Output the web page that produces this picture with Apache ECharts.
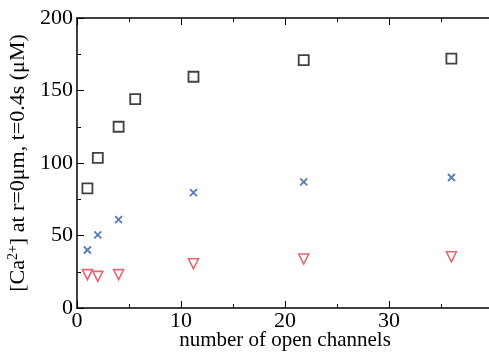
<!DOCTYPE html>
<html><head><meta charset="utf-8">
<script src="https://cdn.jsdelivr.net/npm/echarts@6/dist/echarts.min.js"></script>
<style>html,body{margin:0;padding:0;background:#fff;overflow:hidden}#c{width:489px;height:352px}</style>
</head><body><div id="c"></div>
<script>
const squaresX = [1, 2, 4, 5.6, 11.2, 21.8, 36];
const squaresY = [82.5, 103.5, 125, 144, 159.5, 171, 172];
const crossX = [1, 2, 4, 11.2, 21.8, 36];
const crossY = [40, 50.5, 61, 79.5, 87, 90];
const triX = [1, 2, 4, 11.2, 21.8, 36];
const triY = [23, 21.8, 23, 30.5, 33.8, 35.3];
const xTicks = [0, 10, 20, 30, 40];
const yTicks = [0, 50, 100, 150, 200];

const zip = (a, b) => a.map((v, i) => [v, b[i]]);
const font = 'Liberation Serif';
const chart = echarts.init(document.getElementById('c'));
const axisCommon = (c) => ({
  axisLine: {show: true, onZero: false, lineStyle: {color: c, width: 1.5}},
  axisTick: {show: true, inside: true, length: 7, lineStyle: {color: c, width: 1}},
  minorTick: {show: true, splitNumber: 2, length: 4, lineStyle: {color: c, width: 1}},
  splitLine: {show: false}
});
chart.setOption({
  animation: false,
  grid: {left: 77, top: 18, width: 416, height: 290, containLabel: false, outerBoundsMode: 'none'},
  xAxis: [
    Object.assign({type: 'value', min: xTicks[0], max: xTicks[xTicks.length-1], interval: 10, position: 'bottom',
      name: 'number of open channels', nameLocation: 'middle', nameGap: 22, nameMoveOverlap: false,
      nameTextStyle: {fontFamily: font, fontSize: 21, color: '#000'},
      axisLabel: {fontFamily: font, fontSize: 22, color: '#000', margin: 2,
        formatter: v => v === 40 ? '' : String(v)}}, axisCommon('#000')),
    Object.assign({type: 'value', min: xTicks[0], max: xTicks[xTicks.length-1], interval: 10, position: 'top',
      axisLabel: {show: false}}, axisCommon('#000'))
  ],
  yAxis: [
    Object.assign({type: 'value', min: yTicks[0], max: yTicks[yTicks.length-1], interval: 50,
      name: '{a|[Ca}{s|2+}{a|] at r=0μm, t=0.4s (μM)}', nameLocation: 'middle', nameGap: 45, nameRotate: 90,
      nameTextStyle: {rich: {
        a: {fontFamily: font, fontSize: 22, color: '#000'},
        s: {fontFamily: font, fontSize: 14, color: '#000', verticalAlign: 'top', padding: [0,0,10,0]}
      }},
      axisLabel: {fontFamily: font, fontSize: 22, color: '#000', margin: 4}}, axisCommon('#000'))
  ],
  series: [
    {type: 'scatter', data: zip(squaresX, squaresY), symbol: 'rect', symbolSize: 10,
      itemStyle: {color: '#fff', borderColor: '#111', borderWidth: 1.8}},
    {type: 'scatter', data: zip(crossX, crossY), symbol: 'path://M0,0L10,10M10,0L0,10', symbolSize: 7,
      itemStyle: {color: 'none', borderColor: '#2a5aa8', borderWidth: 1.8}},
    {type: 'scatter', data: zip(triX, triY), symbol: 'triangle', symbolRotate: 180, symbolSize: 10,
      itemStyle: {color: '#fff', borderColor: '#e0414f', borderWidth: 1.6}}
  ]
});
</script></body></html>
